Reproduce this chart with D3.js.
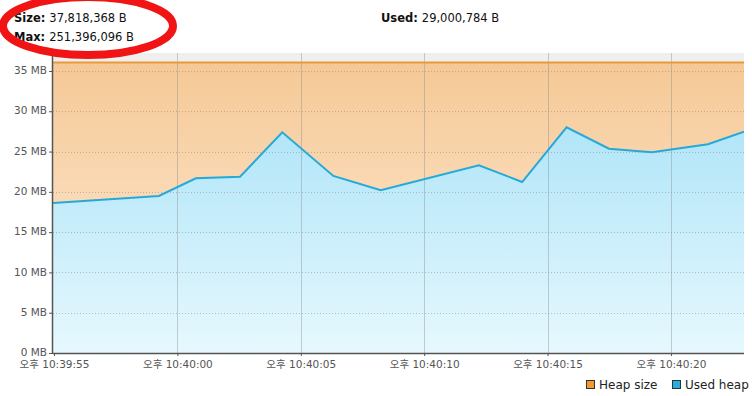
<!DOCTYPE html>
<html>
<head>
<meta charset="utf-8">
<script src="https://cdn.jsdelivr.net/npm/d3@7"></script>
<style>
  body { margin: 0; background: #fff; }
  svg { display: block; font-family: "DejaVu Sans", "Noto Sans CJK KR", sans-serif; }
</style>
</head>
<body>
<div id="chart"></div>
<script>
// sample times (22:39:54 ... 22:40:23) and used heap in MB
var times = ["22:39:54.960", "22:39:59.250", "22:40:00.750", "22:40:02.540", "22:40:04.250",
             "22:40:06.320", "22:40:08.240", "22:40:12.220", "22:40:13.970", "22:40:15.770",
             "22:40:17.490", "22:40:19.230", "22:40:21.500", "22:40:22.960"];
var usedHeap = [18.62, 19.49, 21.68, 21.88, 27.39, 21.97, 20.19, 23.30, 21.22, 28.01,
                25.36, 24.91, 25.90, 27.47];
var heapSizeBytes = 37818368;
var maxBytes = 251396096;
var usedBytes = 29000784;
var yTicks = [0, 5, 10, 15, 20, 25, 30, 35];
var xTickTimes = ["22:39:55.000", "22:40:00.000", "22:40:05.000", "22:40:10.000", "22:40:15.000", "22:40:20.000"];
var legendNames = ["Heap size", "Used heap"];
var legendColors = ["#f29a2e", "#27ade0"];

var W = 752, H = 396;
var margin = {top: 53, right: 8, bottom: 43, left: 53},
    width = W - margin.left - margin.right,
    height = H - margin.top - margin.bottom;

var parse = d3.timeParse("%H:%M:%S.%L");
var data = times.map(function(t, i) { return {t: parse(t), v: usedHeap[i]}; });
var heapMB = heapSizeBytes / 1048576;
var fmt = d3.format(",");

var x = d3.scaleTime()
    .domain([parse("22:39:54.960"), parse("22:40:22.960")])
    .range([0, width]);
var y = d3.scaleLinear().domain([0, 37.23]).range([height, 0]);

var svg = d3.select("#chart").append("svg")
    .attr("width", W).attr("height", H);

var defs = svg.append("defs");
var g1 = defs.append("linearGradient").attr("id", "heapGrad")
    .attr("gradientUnits", "userSpaceOnUse")
    .attr("x1", 0).attr("y1", 0).attr("x2", 0).attr("y2", height);
g1.append("stop").attr("offset", "0%").attr("stop-color", "#f5c793");
g1.append("stop").attr("offset", "100%").attr("stop-color", "#feeedb");
var g2 = defs.append("linearGradient").attr("id", "usedGrad")
    .attr("gradientUnits", "userSpaceOnUse")
    .attr("x1", 0).attr("y1", 0).attr("x2", 0).attr("y2", height);
g2.append("stop").attr("offset", "0%").attr("stop-color", "#9fdff6");
g2.append("stop").attr("offset", "100%").attr("stop-color", "#e6f8fe");
defs.append("clipPath").attr("id", "clip")
  .append("rect").attr("width", width).attr("height", height);

var plot = svg.append("g")
    .attr("transform", "translate(" + margin.left + "," + margin.top + ")");

// background above heap line
plot.append("rect").attr("width", width).attr("height", height).attr("fill", "#efefef");

// heap size area
plot.append("rect")
    .attr("x", 0).attr("y", y(heapMB))
    .attr("width", width).attr("height", height - y(heapMB))
    .attr("fill", "url(#heapGrad)");

// used heap area
var area = d3.area()
    .x(function(d) { return x(d.t); })
    .y0(height)
    .y1(function(d) { return y(d.v); });
plot.append("path").datum(data)
    .attr("clip-path", "url(#clip)")
    .attr("d", area).attr("fill", "url(#usedGrad)");

// grid
plot.selectAll(".hgrid").data(yTicks.slice(1)).enter().append("line")
    .attr("x1", 0).attr("x2", width)
    .attr("y1", function(d) { return Math.round(y(d)) + 0.5; })
    .attr("y2", function(d) { return Math.round(y(d)) + 0.5; })
    .attr("stroke", "#a08870").attr("stroke-opacity", 0.55)
    .attr("stroke-dasharray", "1,2");
plot.selectAll(".vgrid").data(xTickTimes.slice(1)).enter().append("line")
    .attr("x1", function(d) { return Math.round(x(parse(d))) + 0.5; })
    .attr("x2", function(d) { return Math.round(x(parse(d))) + 0.5; })
    .attr("y1", 0).attr("y2", height)
    .attr("stroke", "#8a8a8a").attr("stroke-opacity", 0.4);

// heap size line
plot.append("line")
    .attr("x1", 0).attr("x2", width)
    .attr("y1", y(heapMB)).attr("y2", y(heapMB))
    .attr("stroke", "#eb9a3a").attr("stroke-width", 2);

// used heap line
var line = d3.line()
    .x(function(d) { return x(d.t); })
    .y(function(d) { return y(d.v); });
plot.append("path").datum(data)
    .attr("clip-path", "url(#clip)")
    .attr("d", line).attr("fill", "none")
    .attr("stroke", "#26a9d9").attr("stroke-width", 2)
    .attr("stroke-linejoin", "miter");

// axes
var yAxis = plot.append("g")
    .call(d3.axisLeft(y).tickValues(yTicks).tickSize(4).tickPadding(2)
        .tickFormat(function(d) { return d + " MB"; }));
var xAxis = plot.append("g")
    .attr("transform", "translate(0," + height + ")")
    .call(d3.axisBottom(x).tickValues(xTickTimes.map(parse)).tickSize(3).tickPadding(5)
        .tickFormat(function(d) { return "오후 " + d3.timeFormat("%I:%M:%S")(d); }));
[yAxis, xAxis].forEach(function(a) {
  a.select(".domain").attr("stroke", "#555").attr("stroke-width", 1.5);
  a.selectAll(".tick line").attr("stroke", "#555");
  a.selectAll("text").attr("fill", "#555").style("font-size", "10.5px")
    .style("font-family", "\"DejaVu Sans\", \"Noto Sans CJK KR\", sans-serif");
});
xAxis.select(".domain").attr("d", "M0,0.5H" + width);
yAxis.select(".domain").attr("d", "M-0.5," + height + "V0");
yAxis.selectAll(".tick text").attr("dy", "0.25em");

// header
function header(xp, yp, label, val) {
  var t = svg.append("text").attr("x", xp).attr("y", yp)
    .style("font-size", "11.5px").attr("fill", "#111");
  t.append("tspan").attr("font-weight", "bold").text(label + ": ");
  t.append("tspan").text(fmt(val) + " B");
}
header(14, 22, "Size", heapSizeBytes);
header(14, 41, "Max", maxBytes);
header(381, 22, "Used", usedBytes);

// legend
var leg = svg.append("g").attr("transform", "translate(586,380)");
var lx = [0, 86];
legendNames.forEach(function(n, i) {
  leg.append("rect").attr("x", lx[i] + 0.5).attr("y", 0.5).attr("width", 8).attr("height", 8)
    .attr("fill", legendColors[i]).attr("stroke", "#333").attr("stroke-width", 1);
  leg.append("text").attr("x", lx[i] + 13).attr("y", 9)
    .style("font-size", "12px").attr("fill", "#222").text(n);
});

// red highlight ellipse
svg.append("ellipse")
    .attr("cx", 88).attr("cy", 26).attr("rx", 85).attr("ry", 29)
    .attr("fill", "none").attr("stroke", "#f01414").attr("stroke-width", 8);
</script>
</body>
</html>
